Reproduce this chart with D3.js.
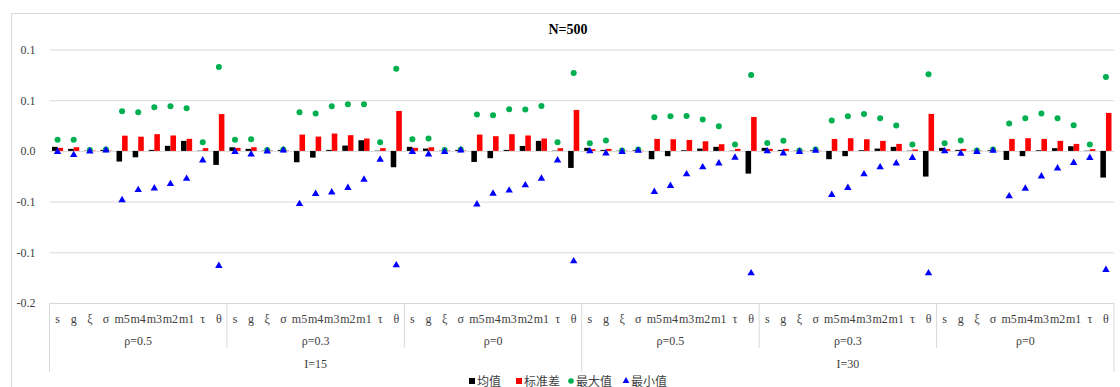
<!DOCTYPE html>
<html>
<head>
<meta charset="utf-8">
<script src="https://cdn.jsdelivr.net/npm/d3@7"></script>
<style>
  body { margin: 0; background: #fff; }
  svg { display: block; }
</style>
</head>
<body>
<svg id="chart"></svg>
<script>
// categories and group labels
const categories = ['s', 'g', 'ξ', 'σ', 'm5', 'm4', 'm3', 'm2', 'm1', 'τ', 'θ'];
const rhoLabels = ['ρ=0.5', 'ρ=0.3', 'ρ=0', 'ρ=0.5', 'ρ=0.3', 'ρ=0'];
const iLabels = ['I=15', 'I=30'];

// one row per (I, ρ) group, values per category
const meanValues = [
    [0.004, 0.002, 0.0003, 0.001, -0.0105, -0.0063, 0.001, 0.005, 0.0099, 0.0003, -0.0138],
    [0.0036, 0.002, 0.0003, 0.001, -0.0112, -0.0066, 0.001, 0.0053, 0.0105, 0.0003, -0.0161],
    [0.004, 0.0023, 0.0003, 0.001, -0.0109, -0.0072, 0.001, 0.0049, 0.0099, 0.0003, -0.0168],
    [0.003, 0.001, 0.0003, 0.0007, -0.0082, -0.0052, 0.0007, 0.0023, 0.004, 0.0003, -0.0224],
    [0.003, 0.001, 0.0003, 0.0007, -0.0082, -0.0052, 0.0007, 0.0023, 0.004, 0.0003, -0.0253],
    [0.003, 0.001, 0.0003, 0.0007, -0.0089, -0.0052, 0.0007, 0.0027, 0.0046, 0.0003, -0.0263]
];
const stdValues = [
    [0.003, 0.0036, 0.0004, 0.0004, 0.015, 0.014, 0.0165, 0.0152, 0.0119, 0.0027, 0.0363],
    [0.003, 0.0036, 0.0004, 0.0004, 0.0161, 0.0141, 0.0171, 0.0155, 0.0122, 0.0027, 0.0394],
    [0.003, 0.0036, 0.0004, 0.0004, 0.0161, 0.0145, 0.0165, 0.0152, 0.0122, 0.0027, 0.0404],
    [0.0017, 0.002, 0.0003, 0.0003, 0.0118, 0.0115, 0.0108, 0.0095, 0.0066, 0.002, 0.0335],
    [0.002, 0.002, 0.0003, 0.0003, 0.0118, 0.0125, 0.0115, 0.0099, 0.0069, 0.0014, 0.0365],
    [0.0017, 0.002, 0.0003, 0.0003, 0.0118, 0.0125, 0.0118, 0.0099, 0.0069, 0.0017, 0.0375]
];
const maxValues = [
    [0.011, 0.011, 0.0008, 0.0015, 0.039, 0.038, 0.043, 0.044, 0.042, 0.0086, 0.0828],
    [0.011, 0.0115, 0.0008, 0.0015, 0.038, 0.037, 0.044, 0.046, 0.046, 0.0086, 0.081],
    [0.0115, 0.0122, 0.0008, 0.0015, 0.0358, 0.0352, 0.041, 0.0408, 0.0444, 0.0086, 0.0769],
    [0.0076, 0.0102, 0.0005, 0.0015, 0.0332, 0.0342, 0.0345, 0.031, 0.0243, 0.0063, 0.0749],
    [0.0079, 0.0099, 0.0005, 0.0015, 0.03, 0.0342, 0.0365, 0.0322, 0.025, 0.0063, 0.0756],
    [0.0076, 0.0102, 0.0005, 0.0015, 0.027, 0.0322, 0.0368, 0.0322, 0.0253, 0.0063, 0.073]
];
const minValues = [
    [-0.001, -0.004, -0.0005, 0.0005, -0.0485, -0.0385, -0.037, -0.0326, -0.0274, -0.0092, -0.1133],
    [-0.001, -0.0033, -0.0005, 0.0005, -0.0523, -0.0424, -0.0408, -0.0365, -0.0283, -0.0086, -0.1127],
    [-0.001, -0.0033, -0.001, 0.0005, -0.0526, -0.042, -0.039, -0.0338, -0.0273, -0.0092, -0.1088],
    [-0.0003, -0.0023, -0.001, 0.0002, -0.0404, -0.0345, -0.023, -0.0161, -0.0122, -0.0066, -0.1206],
    [-0.0003, -0.0023, -0.001, 0.0002, -0.0434, -0.0365, -0.023, -0.0161, -0.0122, -0.0069, -0.1206],
    [-0.0003, -0.0026, -0.001, 0.0002, -0.0447, -0.0372, -0.025, -0.0171, -0.0118, -0.0069, -0.1173]
];

// y axis ticks (labels as printed, one decimal)
const tickValues = [0.1, 0.05, 0, -0.05, -0.1, -0.15];
const tickLabels = ['0.1', '0.1', '0.0', '-0.1', '-0.1', '-0.2'];

const legendItems = [
    { key: 'mean', label: '均值', color: '#000000', shape: 'square' },
    { key: 'std', label: '标准差', color: '#ff0000', shape: 'square' },
    { key: 'max', label: '最大值', color: '#00b050', shape: 'circle' },
    { key: 'min', label: '最小值', color: '#0000ff', shape: 'triangle' }
];

const width = 1120, height = 387;
const plot = { left: 49.5, right: 1114, top: 49.5, bottom: 303 };
const gridColor = '#d9d9d9';
const textColor = '#404040';
const serif = '"Liberation Serif", "DejaVu Serif", serif';
const cjk = '"Noto Sans CJK SC", sans-serif';

const svg = d3.select('#chart')
    .attr('width', width)
    .attr('height', height);

// chart border
svg.append('rect')
    .attr('x', 11.5).attr('y', 13.5)
    .attr('width', 1130).attr('height', 400)
    .attr('fill', '#fff')
    .attr('stroke', gridColor);

const yScale = d3.scaleLinear()
    .domain([-0.15, 0.1])
    .range([plot.bottom, plot.top]);

const groupScale = d3.scaleBand()
    .domain(d3.range(rhoLabels.length))
    .range([plot.left, plot.right]);

const catScale = d3.scaleBand()
    .domain(categories)
    .range([0, groupScale.bandwidth()]);

const barScale = d3.scaleBand()
    .domain(['mean', 'std'])
    .range([0, catScale.bandwidth()])
    .paddingOuter(0.45);

// gridlines + y labels
const yAxis = d3.axisLeft(yScale)
    .tickValues(tickValues)
    .tickSize(-(plot.right - plot.left))
    .tickPadding(14)
    .tickFormat((d, i) => tickLabels[i]);

const yAxisG = svg.append('g')
    .attr('transform', `translate(${plot.left},0)`)
    .call(yAxis)
    .call(g => g.select('.domain').remove());

yAxisG.selectAll('.tick line')
    .attr('stroke', gridColor);
yAxisG.selectAll('.tick text')
    .attr('fill', textColor)
    .attr('font-family', serif)
    .attr('font-size', 12);

// flatten data
const rows = [];
rhoLabels.forEach((rho, gi) => {
    categories.forEach((c, ci) => {
        rows.push({
            group: gi, cat: c,
            mean: meanValues[gi][ci], std: stdValues[gi][ci],
            max: maxValues[gi][ci], min: minValues[gi][ci]
        });
    });
});

const catX = d => groupScale(d.group) + catScale(d.cat);
const catCenter = d => catX(d) + catScale.bandwidth() / 2;

const chart = svg.append('g');

chart.selectAll('.bar-mean')
    .data(rows)
    .join('rect')
    .attr('class', 'bar-mean')
    .attr('x', d => catX(d) + barScale('mean'))
    .attr('width', barScale.bandwidth())
    .attr('y', d => yScale(Math.max(0, d.mean)))
    .attr('height', d => Math.abs(yScale(d.mean) - yScale(0)))
    .attr('fill', '#000000');

chart.selectAll('.bar-std')
    .data(rows)
    .join('rect')
    .attr('class', 'bar-std')
    .attr('x', d => catX(d) + barScale('std'))
    .attr('width', barScale.bandwidth())
    .attr('y', d => yScale(Math.max(0, d.std)))
    .attr('height', d => Math.abs(yScale(d.std) - yScale(0)))
    .attr('fill', '#ff0000');

chart.selectAll('.pt-max')
    .data(rows)
    .join('circle')
    .attr('class', 'pt-max')
    .attr('cx', catCenter)
    .attr('cy', d => yScale(d.max))
    .attr('r', 3)
    .attr('fill', '#00b050');

const tri = d3.symbol().type(d3.symbolTriangle).size(24);
chart.selectAll('.pt-min')
    .data(rows)
    .join('path')
    .attr('class', 'pt-min')
    .attr('d', tri)
    .attr('transform', d => `translate(${catCenter(d)},${yScale(d.min)})`)
    .attr('fill', '#0000ff');

// multi-level category axis
const axisG = svg.append('g');

axisG.selectAll('.cat-label')
    .data(rows)
    .join('text')
    .attr('class', 'cat-label')
    .attr('x', catCenter)
    .attr('y', 323)
    .attr('text-anchor', 'middle')
    .attr('font-family', serif)
    .attr('font-size', 12)
    .attr('fill', textColor)
    .text(d => d.cat);

axisG.selectAll('.rho-label')
    .data(rhoLabels)
    .join('text')
    .attr('class', 'rho-label')
    .attr('x', (d, i) => groupScale(i) + groupScale.bandwidth() / 2)
    .attr('y', 345)
    .attr('text-anchor', 'middle')
    .attr('font-family', serif)
    .attr('font-size', 12)
    .attr('fill', textColor)
    .text(d => d);

const perI = rhoLabels.length / iLabels.length;
axisG.selectAll('.i-label')
    .data(iLabels)
    .join('text')
    .attr('class', 'i-label')
    .attr('x', (d, i) => groupScale(i * perI) + groupScale.bandwidth() * perI / 2)
    .attr('y', 368)
    .attr('text-anchor', 'middle')
    .attr('font-family', serif)
    .attr('font-size', 12)
    .attr('fill', textColor)
    .text(d => d);

// separators
const bounds = d3.range(rhoLabels.length + 1);
axisG.selectAll('.sep')
    .data(bounds)
    .join('line')
    .attr('class', 'sep')
    .attr('x1', i => i === rhoLabels.length ? plot.right : groupScale(i))
    .attr('x2', i => i === rhoLabels.length ? plot.right : groupScale(i))
    .attr('y1', plot.bottom)
    .attr('y2', i => (i % perI === 0) ? 372 : 348)
    .attr('stroke', gridColor);

// title
svg.append('text')
    .attr('x', 568)
    .attr('y', 34)
    .attr('text-anchor', 'middle')
    .attr('font-family', serif)
    .attr('font-weight', 'bold')
    .attr('font-size', 14)
    .attr('fill', '#000')
    .text('N=500');

// legend
const legendX = [469, 516, 568, 623];
const legend = svg.append('g');
legendItems.forEach((item, i) => {
    const g = legend.append('g').attr('transform', `translate(${legendX[i]},381)`);
    if (item.shape === 'square') {
        g.append('rect').attr('x', 0).attr('y', -3).attr('width', 6).attr('height', 6).attr('fill', item.color);
    } else if (item.shape === 'circle') {
        g.append('circle').attr('cx', 3).attr('cy', 0).attr('r', 2.8).attr('fill', item.color);
    } else {
        g.append('path').attr('d', d3.symbol().type(d3.symbolTriangle).size(20))
            .attr('transform', 'translate(3,0)').attr('fill', item.color);
    }
    g.append('text')
        .attr('x', 8)
        .attr('y', 4.5)
        .attr('font-family', cjk)
        .attr('font-size', 12)
        .attr('fill', textColor)
        .text(item.label);
});
</script>
</body>
</html>
